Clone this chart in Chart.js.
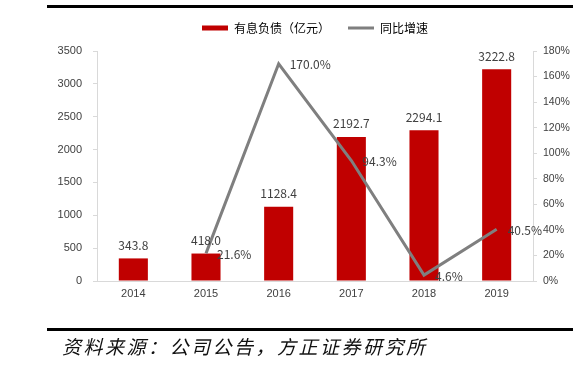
<!DOCTYPE html>
<html>
<head>
<meta charset="utf-8">
<script src="https://cdn.jsdelivr.net/npm/chart.js@4"></script>
<style>
  body { margin: 0; background: #fff; }
  #wrap { position: relative; width: 575px; height: 371px; overflow: hidden; }
  #chart { position: absolute; left: 0; top: 0; }
  .rule { position: absolute; left: 47px; width: 526px; height: 3px; background: #000; }
  #source {
    position: absolute; left: 62px; top: 334px;
    font-family: "Noto Sans CJK SC", sans-serif; font-style: italic;
    font-size: 19px; letter-spacing: 2.5px; color: #111; line-height: 24px;
  }
</style>
</head>
<body>
<div id="wrap">
  <div class="rule" style="top:5px"></div>
  <canvas id="chart" width="575" height="371"></canvas>
  <div class="rule" style="top:328px"></div>
  <div id="source">资料来源：公司公告，方正证券研究所</div>
</div>
<script>
const years = ['2014', '2015', '2016', '2017', '2018', '2019']
const debt = [343.8, 418.0, 1128.4, 2192.7, 2294.1, 3222.8]
const growth = [null, 21.6, 170.0, 94.3, 4.6, 40.5]
const debtLabel = '有息负债（亿元）'
const growthLabel = '同比增速'

const red = '#c00000'
const grey = '#7f7f7f'
const axisGrey = '#d9d9d9'
const textColor = '#404040'
const cjk = '"Noto Sans CJK SC", sans-serif'
const tickFont = { family: 'Liberation Sans', size: 11 }

// small legend swatches
function swatch(color, h) {
    const c = document.createElement('canvas')
    c.width = 26
    c.height = 8
    const g = c.getContext('2d')
    g.fillStyle = color
    g.fillRect(0, (8 - h) / 2, 26, h)
    return c
}

const valueLabels = {
    id: 'valueLabels',
    afterDatasetsDraw(chart) {
        const ctx = chart.ctx
        ctx.save()
        ctx.font = '12px ' + cjk
        ctx.fillStyle = textColor
        ctx.textBaseline = 'middle'
        chart.getDatasetMeta(0).data.forEach((el, i) => {
            ctx.textAlign = 'center'
            ctx.fillText(debt[i].toFixed(1), el.x, el.y - 13)
        })
        chart.getDatasetMeta(1).data.forEach((el, i) => {
            if (growth[i] === null) return
            ctx.textAlign = 'left'
            ctx.fillText(growth[i].toFixed(1) + '%', el.x + 11, el.y + 1)
        })
        ctx.restore()
    }
}

new Chart(document.getElementById('chart'), {
    type: 'bar',
    data: {
        labels: years,
        datasets: [{
            label: debtLabel,
            data: debt,
            backgroundColor: red,
            barPercentage: 0.4,
            categoryPercentage: 1,
            yAxisID: 'y',
            order: 1
        }, {
            type: 'line',
            label: growthLabel,
            data: growth,
            borderColor: grey,
            backgroundColor: grey,
            borderWidth: 3,
            pointRadius: 0,
            tension: 0,
            yAxisID: 'y1',
            order: 0
        }]
    },
    options: {
        responsive: false,
        animation: false,
        layout: { padding: { top: 4, left: 0, right: 0, bottom: 0 } },
        plugins: {
            legend: {
                position: 'top',
                fullSize: false,
                labels: {
                    usePointStyle: true,
                    pointStyleWidth: 26,
                    boxHeight: 8,
                    padding: 18,
                    color: '#595959',
                    font: { family: cjk, size: 12 },
                    generateLabels: () => [
                        { text: debtLabel, pointStyle: swatch(red, 5), lineWidth: 0, datasetIndex: 0 },
                        { text: growthLabel, pointStyle: swatch(grey, 3), lineWidth: 0, datasetIndex: 1 }
                    ]
                }
            },
            // empty spacer between legend and plot
            title: { display: true, text: '', weight: 500, padding: 0, font: { size: 7, lineHeight: 1 } },
            tooltip: { enabled: false }
        },
        scales: {
            x: {
                grid: { drawOnChartArea: false, drawTicks: false },
                border: { color: axisGrey },
                ticks: { color: textColor, padding: 6, font: tickFont },
                afterFit: s => { s.height = 90 }
            },
            y: {
                position: 'left',
                min: 0,
                max: 3500,
                ticks: { stepSize: 500, color: textColor, padding: 11, font: tickFont, callback: v => String(v) },
                grid: { drawOnChartArea: false, tickLength: 4, color: axisGrey },
                border: { color: axisGrey },
                afterFit: s => { s.width = 97 }
            },
            y1: {
                position: 'right',
                min: 0,
                max: 180,
                ticks: { stepSize: 20, color: textColor, padding: 6, font: { family: 'Liberation Sans', size: 10.5 }, callback: v => v + '%' },
                grid: { drawOnChartArea: false, tickLength: 4, color: axisGrey },
                border: { color: axisGrey },
                afterFit: s => { s.width = 42 }
            }
        }
    },
    plugins: [valueLabels]
})
</script>
</body>
</html>
